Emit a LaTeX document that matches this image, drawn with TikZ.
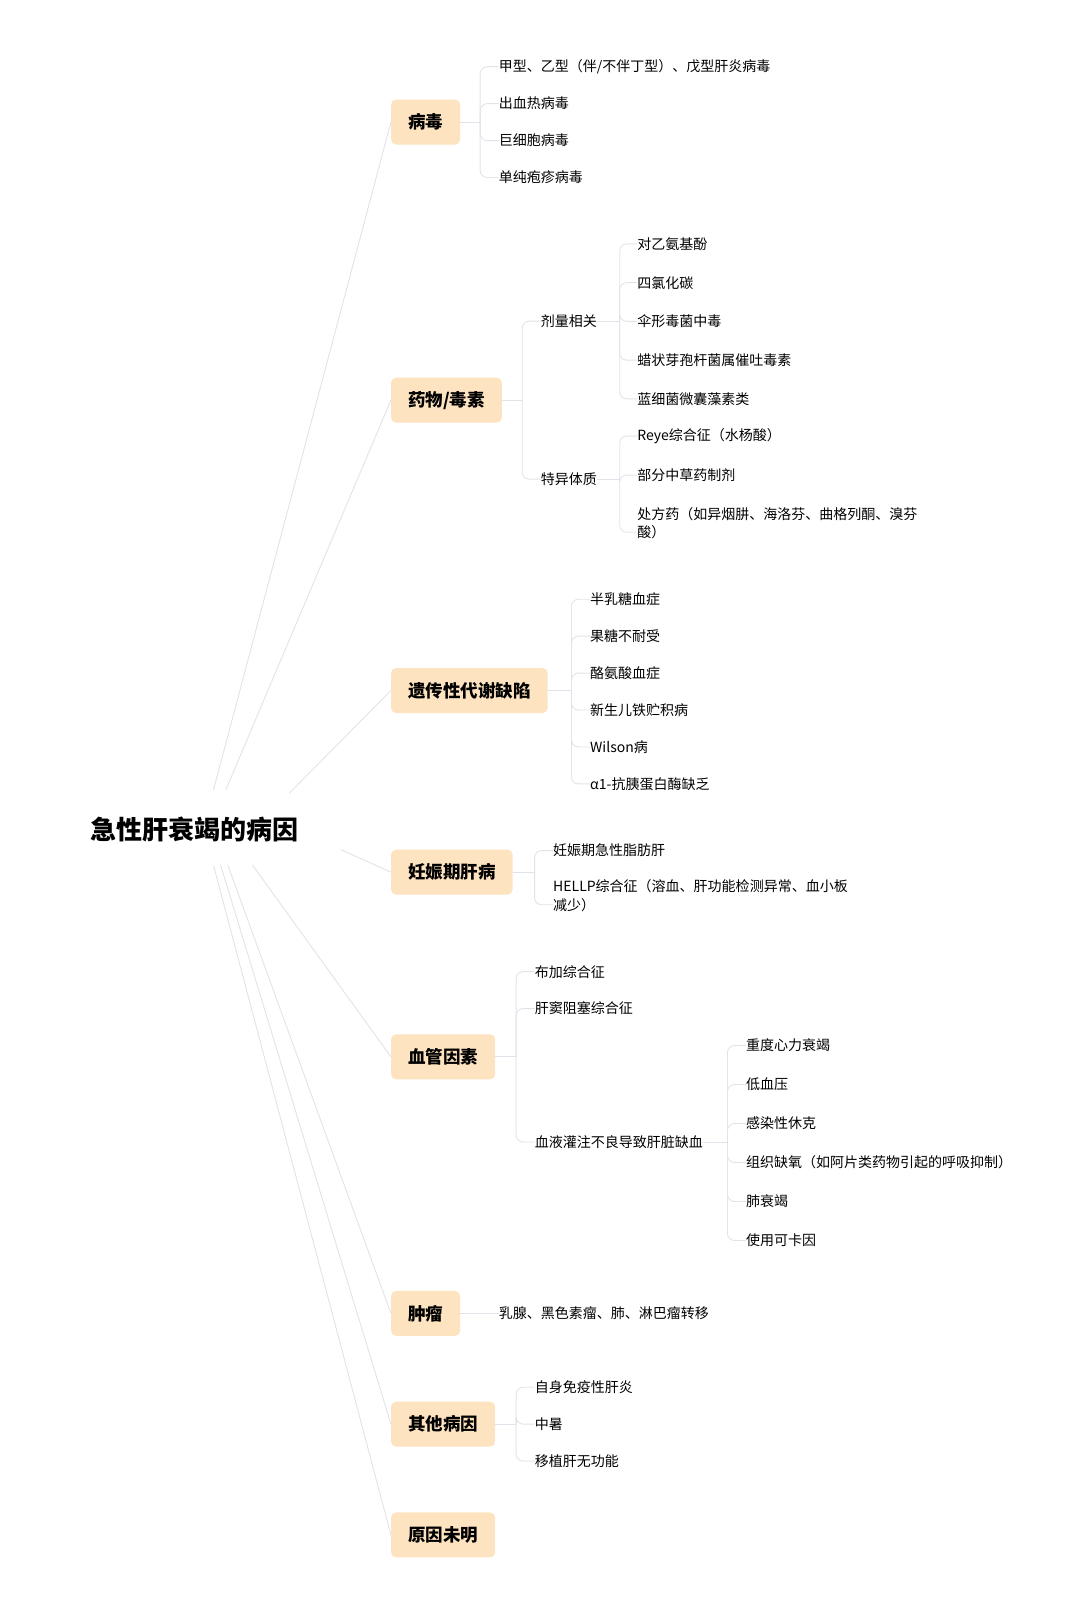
\documentclass[tikz,border=0pt]{standalone}
\usepackage{fontspec}
\setmainfont{Noto Sans CJK SC}
\definecolor{boxfill}{HTML}{FDE3BF}
\definecolor{linegray}{HTML}{E2E3EA}
\tikzset{
  rootnode/.style = {font=\fontsize{26}{30}\selectfont\bfseries},
  branch/.style = {fill=boxfill, rounded corners=5pt, minimum height=45pt, inner xsep=17pt,
                   font=\fontsize{17.5}{21}\selectfont\bfseries, anchor=west},
  leaf/.style = {anchor=west, inner xsep=0pt, font=\fontsize{14}{18.5}\selectfont, align=left},
  link/.style = {draw=linegray, line width=0.9pt},
  bracket/.style = {link, rounded corners=7pt}
}
\begin{document}
\begin{tikzpicture}[x = 1.026pt, y = -1.026pt]
    \useasboundingbox (0,0) rectangle (1053,1575);
    % root and main branches
    \node[rootnode] (root) at (190,808) {急性肝衰竭的病因};
    \node[branch] (virus) at (381,119) {病毒};
    \node[branch] (drug) at (381,390) {药物/毒素};
    \node[branch] (gene) at (381,673) {遗传性代谢缺陷};
    \node[branch] (preg) at (381,850) {妊娠期肝病};
    \node[branch] (vasc) at (381,1030) {血管因素};
    \node[branch] (tumor) at (381,1280) {肿瘤};
    \node[branch] (other) at (381,1388) {其他病因};
    \node[branch] (unknown) at (381,1496) {原因未明};
    % second level
    \node[leaf] (dose) at (527,313) {剂量相关};
    \node[leaf] (idio) at (527,467) {特异体质};
    \node[leaf] (perf) at (521,1113) {血液灌注不良导致肝脏缺血};
    \node[leaf] (tumor1) at (486,1280) {乳腺、黑色素瘤、肺、淋巴瘤转移};
    % leaves
    \foreach \t [count=\i, evaluate=\i as \y using 29+36*\i] in
        {甲型、乙型（伴/不伴丁型）、戊型肝炎病毒, 出血热病毒, 巨细胞病毒, 单纯疱疹病毒}
        \node[leaf] (virus\i) at (486,\y) {\t};
    \foreach \t [count=\i, evaluate=\i as \y using 200+37.75*\i] in
        {对乙氨基酚, 四氯化碳, 伞形毒菌中毒, 蜡状芽孢杆菌属催吐毒素, 蓝细菌微囊藻素类}
        \node[leaf] (dose\i) at (621,\y) {\t};
    \node[leaf] (idio1) at (621,425) {Reye综合征（水杨酸）};
    \node[leaf] (idio2) at (621,463) {部分中草药制剂};
    \node[leaf] (idio3) at (621,510) {处方药（如异烟肼、海洛芬、曲格列酮、溴芬\\酸）};
    \foreach \t [count=\i, evaluate=\i as \y using 548+36*\i] in
        {半乳糖血症, 果糖不耐受, 酪氨酸血症, 新生儿铁贮积病, Wilson病, α1-抗胰蛋白酶缺乏}
        \node[leaf] (gene\i) at (575,\y) {\t};
    \node[leaf] (preg1) at (539,829) {妊娠期急性脂肪肝};
    \node[leaf] (preg2) at (539,873) {HELLP综合征（溶血、肝功能检测异常、血小板\\减少）};
    \node[leaf] (vasc1) at (521,947) {布加综合征};
    \node[leaf] (vasc2) at (521,983) {肝窦阻塞综合征};
    \foreach \t [count=\i, evaluate=\i as \y using 981+38*\i] in
        {重度心力衰竭, 低血压, 感染性休克, 组织缺氧（如阿片类药物引起的呼吸抑制）, 肺衰竭, 使用可卡因}
        \node[leaf] (perf\i) at (727,\y) {\t};
    \foreach \t [count=\i, evaluate=\i as \y using 1316+36*\i] in
        {自身免疫性肝炎, 中暑, 移植肝无功能}
        \node[leaf] (other\i) at (521,\y) {\t};
    % links from the root
    \coordinate (r1) at (208,770);  \coordinate (r2) at (220,770);
    \coordinate (r3) at (282,773);  \coordinate (r4) at (332,828);
    \coordinate (r5) at (246,843);  \coordinate (r6) at (222,843);
    \coordinate (r7) at (215,843);  \coordinate (r8) at (208,843);
    \draw[link] (r1) -- (virus.west) (r2) -- (drug.west) (r3) -- (gene.west)
        (r4) -- (preg.west) (r5) -- (vasc.west) (r6) -- (tumor.west)
        (r7) -- (other.west) (r8) -- (unknown.west);
    % brackets
    \coordinate (bv) at (468,119);  \coordinate (bd) at (509,390);
    \coordinate (bd1) at (604,313); \coordinate (bd2) at (604,467);
    \coordinate (bg) at (557,673);  \coordinate (bp) at (521,850);
    \coordinate (bc) at (503,1030); \coordinate (bc3) at (709,1113);
    \coordinate (bo) at (503,1388);
    \draw[link] (virus.east) -- (bv) (drug.east) -- (bd) (dose.east) -- (bd1)
        (idio.east) -- (bd2) (gene.east) -- (bg) (preg.east) -- (bp)
        (vasc.east) -- (bc) (perf.east) -- (bc3) (other.east) -- (bo)
        (tumor.east) -- (tumor1.west);
    \foreach \i in {1,...,4} \draw[bracket] (bv) |- (virus\i.west);
    \draw[bracket] (bd) |- (dose.west);
    \draw[bracket] (bd) |- (idio.west);
    \foreach \i in {1,...,5} \draw[bracket] (bd1) |- (dose\i.west);
    \foreach \i in {1,2} \draw[bracket] (bd2) |- (idio\i.west);
    \draw[bracket] (bd2) |- ([yshift=-9]idio3.west);
    \foreach \i in {1,...,6} \draw[bracket] (bg) |- (gene\i.west);
    \draw[bracket] (bp) |- (preg1.west);
    \draw[bracket] (bp) |- ([yshift=-9]preg2.west);
    \draw[bracket] (bc) |- (vasc1.west);
    \draw[bracket] (bc) |- (vasc2.west);
    \draw[bracket] (bc) |- (perf.west);
    \foreach \i in {1,...,6} \draw[bracket] (bc3) |- (perf\i.west);
    \foreach \i in {1,...,3} \draw[bracket] (bo) |- (other\i.west);
\end{tikzpicture}
\end{document}
